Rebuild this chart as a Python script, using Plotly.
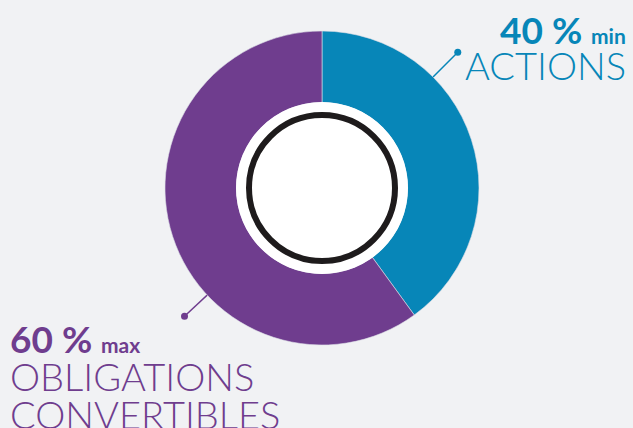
import math
import plotly.graph_objects as go

labels = ["ACTIONS", "OBLIGATIONS CONVERTIBLES"]
values = [40, 60]
qualifiers = ["min", "max"]
colors = ["#0786b8", "#6f3d8e"]

W, H = 633, 428
BG = "#f1f2f4"
cx, cy, R = 322, 188, 157

def px(x):
    return x / W

def py(y):
    return 1 - y / H

fig = go.Figure(go.Pie(
    labels=labels, values=values, sort=False, direction="clockwise", rotation=0,
    hole=0.545, textinfo="none", hoverinfo="label+percent",
    marker=dict(colors=colors, line=dict(width=0.6, color="#dcdde6")),
    domain=dict(x=[px(cx - R), px(cx + R)], y=[py(cy + R), py(cy - R)]),
    showlegend=False,
))

shapes = []
r_w = 86
shapes.append(dict(type="circle", xref="paper", yref="paper",
                   x0=px(cx - r_w), x1=px(cx + r_w), y0=py(cy + r_w), y1=py(cy - r_w),
                   fillcolor="white", line=dict(width=0), layer="above"))
r_b = 73
shapes.append(dict(type="circle", xref="paper", yref="paper",
                   x0=px(cx - r_b), x1=px(cx + r_b), y0=py(cy + r_b), y1=py(cy - r_b),
                   fillcolor="rgba(0,0,0,0)", line=dict(width=6, color="#1e1b1c"), layer="above"))

leader_angles = [45, 227]
leader_len = [192, 188]
for ang, L, col in zip(leader_angles, leader_len, colors):
    a = math.radians(ang)
    x1 = cx + L * math.sin(a)
    y1 = cy - L * math.cos(a)
    x0 = cx + (R - 30) * math.sin(a)
    y0 = cy - (R - 30) * math.cos(a)
    shapes.append(dict(type="line", xref="paper", yref="paper",
                       x0=px(x0), y0=py(y0), x1=px(x1), y1=py(y1),
                       line=dict(color=col, width=1.5), layer="below"))
    rd = 3.5
    shapes.append(dict(type="circle", xref="paper", yref="paper",
                       x0=px(x1 - rd), x1=px(x1 + rd), y0=py(y1 + rd), y1=py(y1 - rd),
                       fillcolor=col, line=dict(width=0), layer="below"))

FONT = "Lato"
annotations = []
annotations.append(dict(
    xref="paper", yref="paper", x=px(628), y=py(29), xanchor="right", yanchor="middle",
    text=f"<b>{values[0]} %</b> <b><span style='font-size:21px'>{qualifiers[0]}</span></b>",
    showarrow=False, font=dict(family=FONT, size=37, color=colors[0], weight=900)))
annotations.append(dict(
    xref="paper", yref="paper", x=px(628), y=py(65), xanchor="right", yanchor="middle",
    text=labels[0], showarrow=False,
    font=dict(family=FONT, size=38, color=colors[0], weight=300)))
annotations.append(dict(
    xref="paper", yref="paper", x=px(8), y=py(338), xanchor="left", yanchor="middle",
    text=f"<b>{values[1]} %</b> <b><span style='font-size:21px'>{qualifiers[1]}</span></b>",
    showarrow=False, font=dict(family=FONT, size=37, color=colors[1], weight=900)))
for i, word in enumerate(labels[1].split(" ")):
    annotations.append(dict(
        xref="paper", yref="paper", x=px(8), y=py(376 + 38 * i), xanchor="left", yanchor="middle",
        text=word, showarrow=False,
        font=dict(family=FONT, size=38, color=colors[1], weight=300)))

fig.update_layout(
    width=W, height=H, margin=dict(l=0, r=0, t=0, b=0),
    paper_bgcolor=BG, plot_bgcolor=BG,
    shapes=shapes, annotations=annotations,
)
fig.write_html("out.html", config={"displayModeBar": False},
               post_script="document.body.style.margin='0';document.body.style.overflow='hidden';")
